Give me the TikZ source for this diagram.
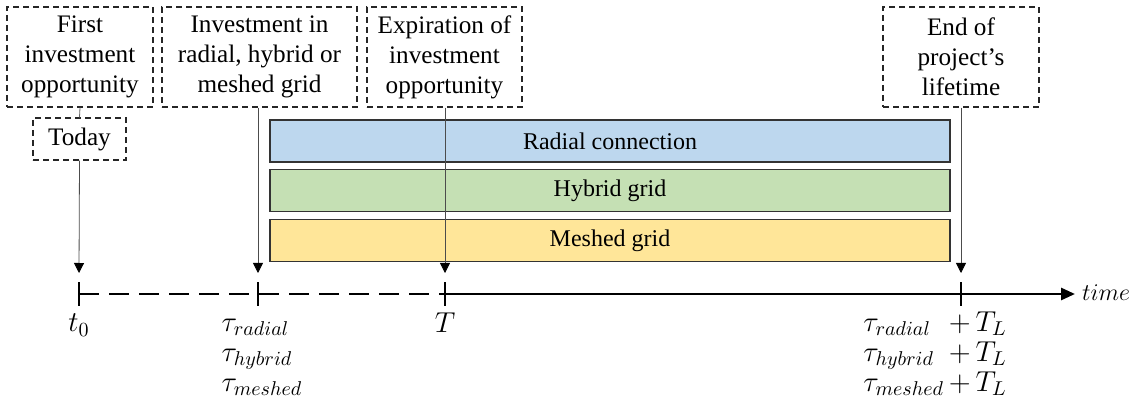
\documentclass[tikz,border=0pt]{standalone}
\usepackage{fontspec}
\setmainfont{Liberation Serif}
\usepackage{amsmath}
\usetikzlibrary{arrows.meta}
\definecolor{radialblue}{RGB}{189,215,238}
\definecolor{hybridgreen}{RGB}{197,224,180}
\definecolor{meshedyellow}{RGB}{255,230,153}

\begin{document}
\begin{tikzpicture}[x=0.5pt,y=0.5pt,yscale=-1,xscale=1,
  every node/.style={font=\fontsize{12}{15}\selectfont},
  eventbox/.style={draw=black!85,line width=0.6pt,dash pattern=on 3pt off 2pt,align=center,inner sep=0pt,minimum height=50pt,font=\fontsize{12.6}{15}\selectfont},
  gridbar/.style={draw=black!80,line width=0.6pt,inner sep=0pt,minimum width=340pt,minimum height=21pt},
  pointer/.style={draw=black!70,line width=0.4pt,-{Triangle[width=5pt,length=5pt,color=black]}},
  timeaxis/.style={line width=1.4pt},
  mathlabel/.style={font=\fontsize{14.4}{15}\selectfont}]
\useasboundingbox (0,0) rectangle (1137,401);

%Shape: event boxes
\node [eventbox,minimum width=73pt] (first) at (80,57) {First\\investment\\opportunity};
\node [eventbox,minimum width=46.5pt,minimum height=21pt] (today) at (79.5,139) {Today};
\node [eventbox,minimum width=97.5pt] (invest) at (259.5,57) {Investment in\\radial, hybrid or\\meshed grid};
\node [eventbox,minimum width=77.5pt] (expire) at (444.5,57) {Expiration of\\investment\\opportunity};
\node [eventbox,minimum width=78pt] (lifeend) at (961,57) {End of\\project's\\lifetime};

%Shape: grid bars
\node [gridbar,fill=radialblue] (radial) at (610,141) {Radial connection};
\node [gridbar,fill=hybridgreen] (hybrid) at (610,190.5) {Hybrid grid};
\node [gridbar,fill=meshedyellow] (meshed) at (610,240.5) {Meshed grid};

%Time axis
\coordinate (tzero) at (79,294);
\coordinate (tinv) at (258,294);
\coordinate (texp) at (445,294);
\coordinate (tlife) at (961,294);
\coordinate (tend) at (1075,294);
\draw [timeaxis,dash pattern=on 10pt off 5pt] (tzero) -- (texp);
\draw [timeaxis,-{Triangle[width=6pt,length=7pt]}] (texp) -- (tend);
\foreach \t in {tzero,tinv,texp,tlife}
  \draw [timeaxis] ([yshift=6pt]\t) -- ([yshift=-6pt]\t);

% Connection
\draw [draw=black!60,line width=0.4pt] (first.south) -- (today.north);
\draw [pointer] (today.south) -- ([yshift=-10.5pt]tzero);
\draw [pointer] (invest.south -| tinv) -- ([yshift=-10.5pt]tinv);
\draw [pointer] (expire.south -| texp) -- ([yshift=-10.5pt]texp);
\draw [pointer] (lifeend.south -| tlife) -- ([yshift=-10.5pt]tlife);

% Text Node
\node (timelabel) at (1106,293) {$time$};
\node [mathlabel] (tzerolabel) at (79,325) {$t_{0}$};
\node [mathlabel] (taulabel) at (262,355) {$\begin{array}{@{}l@{}}\tau_{radial}\\\tau_{hybrid}\\\tau_{meshed}\end{array}$};
\node [mathlabel] (Tlabel) at (445,323) {$T$};
\node [mathlabel] (taulifelabel) at (935,355) {$\begin{array}{@{}l@{\,}c@{\,}l@{}}\tau_{radial}&+&T_{L}\\\tau_{hybrid}&+&T_{L}\\\tau_{meshed}&+&T_{L}\end{array}$};

\end{tikzpicture}
\end{document}
